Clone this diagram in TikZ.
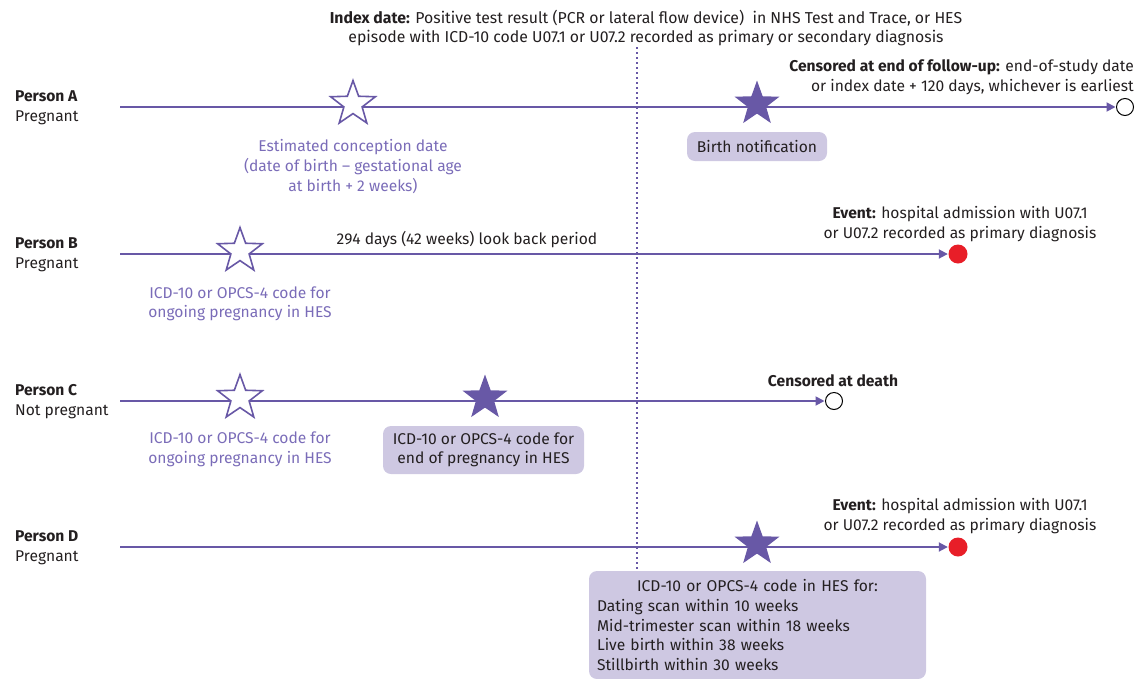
\documentclass[tikz,border=0pt]{standalone}
\usepackage{fontspec}
\setmainfont{Fira Sans}
\usetikzlibrary{shapes.geometric,arrows.meta}
\definecolor{pline}{RGB}{104,88,166}
\definecolor{ptext}{RGB}{122,108,184}
\definecolor{pbox}{RGB}{206,200,226}
\definecolor{dtext}{RGB}{35,31,32}
\definecolor{evred}{RGB}{232,30,40}
\tikzset{
  base/.style={font=\fontsize{15.6}{19.6}\selectfont, text=dtext, inner sep=0pt},
  tshift/.style={yshift=-1.5pt},
  lbl/.style={base, tshift, align=center},
  plbl/.style={base, tshift, align=center, text=ptext},
  person/.style={base, tshift, align=left, anchor=west},
  tline/.style={draw=pline, line width=1.8pt, -{Triangle[length=9pt,width=9pt]}, shorten >=0.5pt},
  ostar/.style={star, star points=5, star point ratio=2.45, minimum size=47pt, inner sep=0pt, draw=pline, fill=white, line width=1.6pt},
  fstar/.style={star, star points=5, star point ratio=2.45, minimum size=47pt, inner sep=0pt, fill=pline},
  cens/.style={circle, draw=black, fill=white, line width=1pt, minimum size=17pt, inner sep=0pt},
  evdot/.style={circle, fill=evred, minimum size=19pt, inner sep=0pt},
  pboxs/.style={base, fill=pbox, rounded corners=8pt, align=center}
}
\begin{document}
\begin{tikzpicture}[x=1pt,y=-1pt]
\useasboundingbox (0,0) rectangle (1148,678);

% index date
\node[lbl, font=\fontsize{15.8}{19.6}\selectfont] (idx) at (646,26.5) {\textbf{Index date:} Positive test result (PCR or lateral flow device)~ in NHS Test and Trace, or HES\\episode with ICD-10 code U07.1 or U07.2 recorded as primary or secondary diagnosis};
\coordinate (dtop) at (637,47);
\coordinate (dbot) at (637,571);
\draw[pline, line width=1.8pt, dash pattern=on 1.8pt off 3.2pt] (dtop) -- (dbot);

% Person A
\node[person] (pa) at (15,106.5) {\textbf{Person A}\\Pregnant};
\coordinate (a0) at (120,107);
\node[cens] (aend) at (1125,107) {};
\draw[tline] (a0) -- (aend);
\node[ostar] (as1) at (353,104) {};
\node[fstar] (as2) at (757,104) {};
\node[plbl] (atxt) at (353,165) {Estimated conception date\\(date of birth -- gestational age\\at birth + 2 weeks)};
\node[pboxs, minimum width=140pt, minimum height=29pt] (abox) at (757,146.5) {Birth notification};
\node[base, tshift, align=right, anchor=east] (acens) at (1134,76) {\textbf{Censored at end of follow-up:} end-of-study date\\or index date + 120 days, whichever is earliest};

% Person B
\node[person] (pb) at (15,253) {\textbf{Person B}\\Pregnant};
\coordinate (b0) at (120,254);
\node[evdot] (bend) at (958,254) {};
\draw[tline] (b0) -- (bend);
\node[ostar] (bs1) at (240,251) {};
\node[lbl] (blook) at (467,238) {294 days (42 weeks) look back period};
\node[plbl] (btxt) at (240,302.5) {ICD-10 or OPCS-4 code for\\ongoing pregnancy in HES};
\node[lbl] (bev) at (960,222.5) {\textbf{Event:} hospital admission with U07.1\\or U07.2 recorded as primary diagnosis};

% Person C
\node[person] (pc) at (15,400) {\textbf{Person C}\\Not pregnant};
\coordinate (c0) at (120,401);
\node[cens] (cend) at (834,401) {};
\draw[tline] (c0) -- (cend);
\node[ostar] (cs1) at (240,398) {};
\node[fstar] (cs2) at (485,398) {};
\node[plbl] (ctxt) at (240,448) {ICD-10 or OPCS-4 code for\\ongoing pregnancy in HES};
\node[pboxs, minimum width=201pt, minimum height=48pt] (cbox) at (483.5,450) {ICD-10 or OPCS-4 code for\\end of pregnancy in HES};
\node[lbl] (ccens) at (833,379) {\textbf{Censored at death}};

% Person D
\node[person] (pd) at (15,546) {\textbf{Person D}\\Pregnant};
\coordinate (d0) at (120,547);
\node[evdot] (dend) at (958,547) {};
\draw[tline] (d0) -- (dend);
\node[fstar] (ds1) at (757,544) {};
\node[lbl] (dev) at (960,514.5) {\textbf{Event:} hospital admission with U07.1\\or U07.2 recorded as primary diagnosis};
\node[pboxs, align=left, text width=321pt, minimum width=337pt, minimum height=108pt, inner xsep=8pt] (dbox) at (757.5,625) {\makebox[\linewidth][c]{ICD-10 or OPCS-4 code in HES for:}\\Dating scan within 10 weeks\\Mid-trimester scan within 18 weeks\\Live birth within 38 weeks\\Stillbirth within 30 weeks};
\end{tikzpicture}
\end{document}
